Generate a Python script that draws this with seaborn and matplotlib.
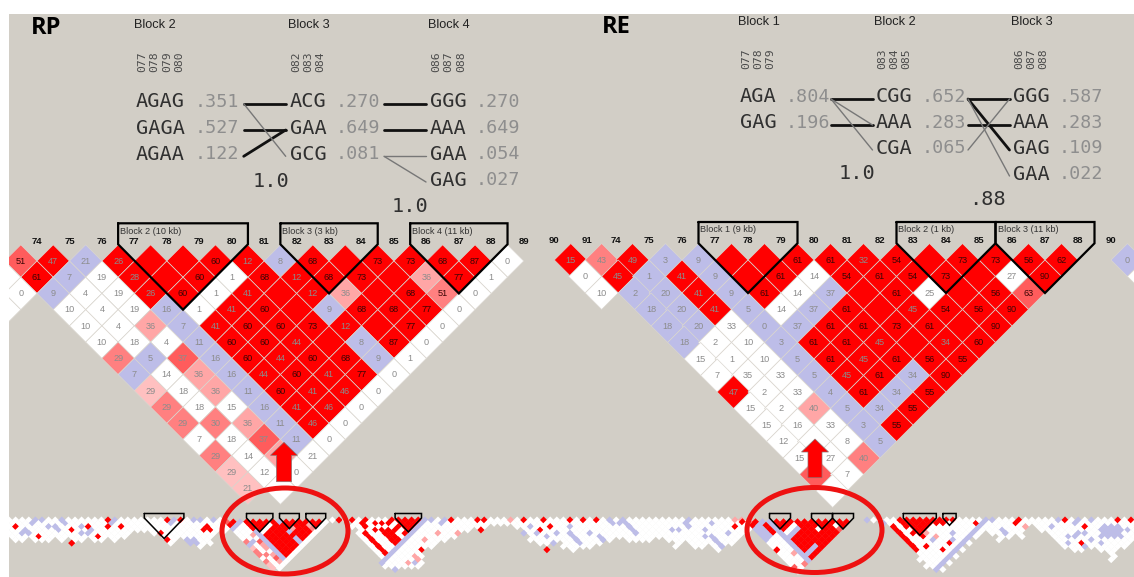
import pandas as pd
import matplotlib
matplotlib.use("Agg")
import matplotlib.pyplot as plt
import matplotlib.patches as mpatches
import seaborn as sns

N = None

# --- LD values, one list per marker distance (rows end at the last marker) ---
rp_values = [
    [51, 47, 21, 26, N, N, 60, 12, 8, 68, N, 73, 73, 68, 87, 0],
    [N, 61, 7, 19, 28, N, 60, 1, 68, 12, 68, 73, N, 36, 77, 1],
    [0, 9, 4, 19, 26, 60, 1, 41, N, 12, 36, N, 68, 51, 0],
    [N, N, 10, 4, 19, 16, 1, 41, 60, N, 9, 68, 68, 77, 0],
    [10, 4, 36, 7, 41, 60, 60, 73, 12, N, 77, 0],
    [10, 18, 4, 11, 60, 60, 44, N, 8, 87, 0],
    [29, 5, 37, 16, 60, 44, 60, 68, 9, 1],
    [7, 14, 36, 16, 44, 60, 41, 77, 0],
    [29, 18, 36, 11, 60, 41, 46, 0],
    [29, 18, 15, 16, 41, 46, 0],
    [29, 30, 36, 11, 46, 0],
    [7, 18, 37, 11, 0],
    [29, 14, 36, 21],
    [29, 12, 0],
    [21, N],
]
rp_shades = [
    "drbrrrrrbrrrrrrw", "wrbwrrrwrrrrrprw", "wbwwrrwrrrprrsw", "wxwwwbwrrrbrrrw",
    "wwpbrrrrrrrw", "wwwbrrrrbrw", "sbdbrrrrbw", "bwpbrrrrw", "lwpbrrrw", "swwbrrw",
    "sspbrw", "wwdbw", "swpw", "lww", "lw",
]
re_values = [
    [15, 43, 49, 3, 9, N, N, 61, 61, 32, 54, N, 73, 73, 56, 62],
    [0, 45, 1, 41, 9, N, 61, 14, 54, 61, 54, 73, N, 27, 90],
    [10, 2, 20, 41, 9, 61, 14, 37, N, 61, 25, N, 56, 63],
    [18, 20, 41, 5, 14, 37, 61, N, 45, 54, 56, 90],
    [18, 20, 33, 0, 37, 61, 61, 73, 61, N, 90],
    [18, 2, 10, 3, 61, 61, 45, N, 34, 60],
    [15, 1, 10, 5, 61, 45, 61, 56, 55],
    [7, 35, 33, 5, 45, 61, 34, 90],
    [47, 2, 33, 4, 61, 34, 55],
    [15, 2, 40, 5, 34, 55],
    [15, 16, 33, 3, 55],
    [12, N, 8, 5],
    [15, 27, 40],
    [N, 7],
    [N],
]
re_shades = [
    "rsrbbrrrrrrrrrrr", "wrbrbrrwrrrrrwr", "wbbrbrwbrrwrrd", "bbrbwbrrrrrr",
    "bbwbbrrrrrr", "bwwbrrrrrr", "wwwbrrrrr", "wwwbrrbr", "rwwbrbr", "wwpbbr",
    "wwwbr", "wwwb", "wws", "dw", "w",
]
re_tail_values = [0, N]
re_tail_shades = "bw"

rp_markers = [74, 75, 76, 77, 78, 79, 80, 81, 82, 83, 84, 85, 86, 87, 88, 89]
re_markers = [90, 91, 74, 75, 76, 77, 78, 79, 80, 81, 82, 83, 84, 85, 86, 87, 88, 90]

rp_blocks = [("Block 2 (10 kb)", 3, 6), ("Block 3 (3 kb)", 8, 10), ("Block 4 (11 kb)", 12, 14)]
re_blocks = [("Block 1 (9 kb)", 3, 5), ("Block 2 (1 kb)", 9, 11), ("Block 3 (11 kb)", 12, 14)]

# --- haplotype tables ---
rp_haps = [
    ("Block 2", ["077", "078", "079", "080"], ["AGAG", "GAGA", "AGAA"], [".351", ".527", ".122"]),
    ("Block 3", ["082", "083", "084"], ["ACG", "GAA", "GCG"], [".270", ".649", ".081"]),
    ("Block 4", ["086", "087", "088"], ["GGG", "AAA", "GAA", "GAG"], [".270", ".649", ".054", ".027"]),
]
re_haps = [
    ("Block 1", ["077", "078", "079"], ["AGA", "GAG"], [".804", ".196"]),
    ("Block 2", ["083", "084", "085"], ["CGG", "AAA", "CGA"], [".652", ".283", ".065"]),
    ("Block 3", ["086", "087", "088"], ["GGG", "AAA", "GAG", "GAA"], [".587", ".283", ".109", ".022"]),
]
# links between haplotype rows: (from row, to row, thick)
rp_links = [
    [(0, 0, True), (1, 1, True), (2, 1, True), (0, 2, False)],
    [(0, 0, True), (1, 1, True), (2, 2, False), (2, 3, False)],
]
re_links = [
    [(0, 0, True), (1, 1, True), (0, 1, False), (0, 2, False)],
    [(0, 0, True), (1, 1, True), (0, 2, True), (0, 3, False), (2, 0, False)],
]

# --- overview strip along the bottom: white depth per column, then coloured cells ---
strip_depth = (
    [6, 7, 7, 6, 7, 7, 7, 6, 7, 6, 7, 7, 6, 7, 7, 6, 7, 6, 5, 4, 4, 4, 5, 6, 8, 7, 6, 6, 8, 9, 8, 5, 4]
    + [0] * 16
    + [1, 1, 1, 3, 6, 8, 10, 12, 15, 15, 15, 15, 15, 15, 9, 9, 7, 7, 6, 5, 4, 3, 3, 3, 2, 2, 2, 2, 3, 5, 7, 8, 8, 7, 7, 9]
    + [10, 9, 9, 9, 8, 7, 7, 6, 6, 7, 7, 7, 7, 6, 6, 7, 9, 7, 8, 9, 9, 8, 10, 9, 8, 7, 5]
    + [0] * 18
    + [1, 1, 1]
    + [2, 4, 6, 8, 10, 13, 15, 16, 16, 14, 12, 10, 8, 6, 5, 4, 5, 7, 6, 5, 6, 3, 2, 4, 4, 6, 8, 9, 10, 10, 8, 9, 10, 10, 13, 9, 9, 7]
)
strip_red = [
    (1, 2), (4, 5), (9, 3), (12, 2), (13, 5), (15, 0), (15, 2), (17, 2), (9, 7), (23, 4), (24, 0), (24, 6),
    (26, 0), (30, 2), (30, 3), (29, 3), (50, 0), (52, 0), (53, 1), (54, 0), (54, 2), (55, 1), (56, 1), (57, 1),
    (55, 3), (56, 3), (57, 3), (58, 3), (58, 0), (59, 0), (60, 0), (61, 0), (62, 0), (63, 0), (59, 1), (60, 1),
    (61, 1), (62, 1), (59, 2), (60, 2), (61, 2), (60, 3), (61, 3), (60, 4), (56, 13), (62, 9), (67, 0), (71, 0),
    (72, 0), (71, 3), (78, 0), (81, 0), (82, 2), (80, 3), (81, 9),
    (85, 0), (87, 0), (89, 0), (110, 2), (135, 1), (139, 8), (141, 9), (142, 7), (146, 1), (153, 0), (152, 1),
    (160, 0), (163, 2), (162, 7), (168, 0), (170, 0), (135, 0), (136, 0), (137, 0), (138, 0), (139, 0), (140, 0),
    (136, 1), (137, 1), (138, 1), (139, 1), (140, 1), (136, 2), (137, 2), (138, 2), (139, 2), (137, 3), (138, 3),
    (137, 4), (138, 4), (138, 5), (141, 0), (142, 0), (141, 1), (143, 0),
]
strip_pink = [
    (61, 11), (62, 12), (60, 13), (65, 4), (63, 6), (76, 0), (68, 4), (110, 0), (111, 0), (154, 2), (139, 4), (140, 5),
]
strip_blue = [
    (4, 0), (3, 1), (5, 0), (2, 3), (2, 4), (3, 4), (6, 2), (7, 3), (8, 1), (8, 0), (7, 2), (11, 4), (12, 3), (12, 4),
    (11, 2), (16, 0), (15, 1), (25, 0), (24, 1), (27, 6), (28, 6), (28, 7), (27, 7), (28, 0), (29, 0), (31, 0), (63, 6),
    (66, 0), (64, 0), (65, 1), (80, 4), (81, 5), (78, 4), (79, 2), (83, 4), (82, 7), (61, 13), (58, 15),
    (91, 0), (91, 1), (92, 1), (85, 2), (88, 4), (89, 5), (90, 6), (100, 3), (101, 3), (103, 0), (102, 1), (103, 2),
    (106, 1), (105, 3), (105, 5), (109, 4), (149, 0), (150, 3), (151, 4), (140, 6), (143, 4), (143, 6),
    (160, 7), (165, 3), (163, 8), (166, 2), (167, 2), (168, 2), (166, 3), (167, 3), (168, 3), (169, 3), (166, 4),
    (167, 4), (168, 4), (158, 2), (159, 0), (161, 1), (162, 0), (164, 0), (130, 0), (132, 1),
    (165, 5), (166, 5), (167, 5), (168, 5), (164, 6), (165, 7), (160, 5), (161, 5), (162, 4), (163, 4),
]
# diagonal runs: (shade, column, row, length, direction)
strip_runs = [
    ("r", 54, 4, 7, 1), ("r", 56, 3, 6, 1), ("r", 58, 4, 3, 1), ("b", 63, 0, 14, -1),
    ("r", 134, 2, 8, 1), ("b", 148, 0, 16, -1), ("b", 93, 0, 5, 1), ("b", 85, 4, 4, 1), ("b", 106, 5, 4, 1),
]
strip_blocks_cols = [(21, 26), (59, 62), (136, 140), (142, 143)]

# --- styling and layout ---
sns.set_theme(style="white")
BG = "#D2CEC6"
GRID = "#DAD6CF"
SHADE_COLOURS = {
    "r": "#FF0000", "b": "#BDBDE8", "w": "#FFFFFF",
    "l": "#FFC0C0", "p": "#FFA6A6", "s": "#FF8080", "d": "#FF5C5C",
}
WIDTH, HEIGHT = 1134, 577
LEFT, TOP = 9, 14
LABEL_FONT = "Liberation Sans"
MONO_FONT = "DejaVu Sans Mono"


def diamond_size(step):
    """scatter size (pt^2) of a 'D' marker whose diagonal is step pixels wide"""
    side_pt = step / 2 ** 0.5 * 72 / 100
    return side_pt ** 2


def ld_frame(values, shades, last_marker, pos, tail=None):
    records = []
    for row, (vals, codes) in enumerate(zip(values, shades)):
        d = row + 1
        first = last_marker - d - len(vals) + 1
        for k, (v, code) in enumerate(zip(vals, codes)):
            if code == "x":
                continue
            i = first + k
            records.append((i, d, (pos(i) + pos(i + d)) / 2, v, code))
    if tail is not None:
        for row, (v, code) in enumerate(zip(*tail)):
            d = row + 1
            records.append((last_marker + 1, d, last_marker + 1 + d / 2, v, code))
    return pd.DataFrame(records, columns=["i", "d", "u", "value", "shade"]).astype({"value": object})


def draw_cells(ax, frame, x0, y0, xstep, ystep, gap, labels=True):
    df = frame.copy()
    df["px"] = x0 + xstep * df["u"]
    df["py"] = y0 + ystep * (df["d"] - 1)
    size = diamond_size(xstep) if gap else diamond_size(xstep * 1.08)
    sns.scatterplot(
        data=df, x="px", y="py", hue="shade", palette=SHADE_COLOURS, marker="D",
        s=size, edgecolor=GRID if gap else "none", linewidth=0.5 if gap else 0,
        legend=False, ax=ax, zorder=2,
    )
    if not labels:
        return
    for row in df.itertuples():
        if row.value is None or pd.isna(row.value):
            continue
        v = int(row.value)
        colour = "#3A0505" if v >= 50 else "#8C8C8C"
        ax.text(row.px, row.py + 0.3, str(v), fontsize=6.6, family=LABEL_FONT, color=colour,
                ha="center", va="center", zorder=3)


def draw_block(ax, i, j, x0, xstep, top, shoulder, y0, ystep, lw):
    x_left = x0 + xstep * (i - 0.5)
    x_right = x0 + xstep * (j + 0.5)
    x_mid = x0 + xstep * (i + j) / 2
    y_apex = y0 + ystep * (j - i)
    ax.plot([x_left, x_right, x_right, x_mid, x_left, x_left],
            [top, top, shoulder, y_apex, shoulder, top],
            color="black", lw=lw, solid_joinstyle="miter", zorder=4)


def draw_haps(ax, tables, links, xs, ys, title_y, num_y, adv, link_gap, corr):
    for (title, nums, haps, freqs), x in zip(tables, xs):
        ax.text(x - 2, title_y, title, fontsize=9.2, family=LABEL_FONT, color="#222222",
                ha="left", va="center")
        for k, num in enumerate(nums):
            ax.text(x + adv * (k + 0.5), num_y, num, fontsize=8.2, family=MONO_FONT, color="#4A4A4A",
                    rotation=90, ha="center", va="center")
        for row, (hap, freq) in enumerate(zip(haps, freqs)):
            ax.text(x, ys[row], hap, fontsize=14.6, family=MONO_FONT, color="#303030", ha="left", va="center")
            ax.text(x + adv * (len(hap) + 0.7), ys[row], freq, fontsize=13.2, family=MONO_FONT,
                    color="#8E8E8E", ha="left", va="center")
    for c, pairs in enumerate(links):
        x_from = xs[c + 1] - link_gap[0]
        x_start = x_from - link_gap[1]
        for a, b, thick in pairs:
            ax.plot([x_start, x_from], [ys[a] + 2, ys[b] + 2],
                    color="#111111" if thick else "#777777", lw=2.0 if thick else 1.0, zorder=2)
    for text, x, y in corr:
        ax.text(x, y, text, fontsize=14.6, family=MONO_FONT, color="#303030", ha="center", va="center")


fig = plt.figure(figsize=(WIDTH / 100, HEIGHT / 100), dpi=100, facecolor="white")
ax = fig.add_axes([LEFT / WIDTH, 0, (WIDTH - LEFT) / WIDTH, (HEIGHT - TOP) / HEIGHT], facecolor=BG)
ax.set_xlim(LEFT, WIDTH)
ax.set_ylim(HEIGHT, TOP)
ax.set_axis_off()
ax.add_patch(mpatches.Rectangle((LEFT, TOP), WIDTH - LEFT, HEIGHT - TOP, color=BG, zorder=0))

# overview strip
cells = {}
for c, depth in enumerate(strip_depth):
    for r in range(depth):
        cells[(c, r)] = "w"
for marks, code in ((strip_blue, "b"), (strip_pink, "p"), (strip_red, "r")):
    for c, r in marks:
        cells[(c, r)] = code
for code, c, r, n, direction in strip_runs:
    for k in range(n):
        u = c + 0.5 * (r % 2) + direction * k / 2
        rr = r + k
        cells[(int(u - 0.5 * (rr % 2)), rr)] = code
strip_frame = pd.DataFrame(
    [(c + 0.5 * (r % 2), r + 1, None, code) for (c, r), code in cells.items()],
    columns=["u", "d", "value", "shade"],
)
STRIP_STEP = 6.6
draw_cells(ax, strip_frame, LEFT, 520, STRIP_STEP, STRIP_STEP / 2, gap=False, labels=False)
for i, j in strip_blocks_cols:
    draw_block(ax, i, j, LEFT, STRIP_STEP, 513.5, 518, 522, STRIP_STEP / 2, 1.1)

# main LD triangles
rp_frame = ld_frame(rp_values, rp_shades, 15, lambda i: i)
re_pos = lambda i: i if i >= 0 else i + 0.13
re_frame = ld_frame(re_values, re_shades, 14, re_pos, tail=(re_tail_values, re_tail_shades))

RP_X, RP_STEP, RP_Y = 37, 32.45, 261
RE_X, RE_STEP, RE_Y = 616, 33.0, 260
draw_cells(ax, rp_frame, RP_X, RP_Y, RP_STEP, RP_STEP / 2, gap=True)
draw_cells(ax, re_frame, RE_X, RE_Y, RE_STEP, RE_STEP / 2, gap=True)

for k, m in enumerate(rp_markers):
    ax.text(RP_X + RP_STEP * k, 241.5, str(m), fontsize=6.8, fontweight="bold", family=LABEL_FONT,
            color="#111111", ha="center", va="center")
for k, m in enumerate(re_markers):
    ax.text(RE_X + RE_STEP * re_pos(k - 2), 240.5, str(m), fontsize=6.8, fontweight="bold", family=LABEL_FONT,
            color="#111111", ha="center", va="center")

for name, i, j in rp_blocks:
    draw_block(ax, i, j, RP_X, RP_STEP, 223.3, 244.3, RP_Y, RP_STEP / 2, 1.6)
    ax.text(RP_X + RP_STEP * (i - 0.5) + 2, 231, name, fontsize=6.6, family=LABEL_FONT, color="#333333",
            ha="left", va="center", zorder=5)
for name, i, j in re_blocks:
    draw_block(ax, i, j, RE_X, RE_STEP, 222, 243.3, RE_Y, RE_STEP / 2, 1.6)
    ax.text(RE_X + RE_STEP * (i - 0.5) + 2, 229.5, name, fontsize=6.6, family=LABEL_FONT, color="#333333",
            ha="left", va="center", zorder=5)

# mini copies of the triangles inside the overview strip
MINI_RP_X, MINI_RP_STEP = 230, 6.6
MINI_RE_X, MINI_RE_STEP = 752, 7.0
draw_cells(ax, rp_frame, MINI_RP_X, 522, MINI_RP_STEP, MINI_RP_STEP / 2, gap=False, labels=False)
draw_cells(ax, re_frame[re_frame["i"] < 15], MINI_RE_X, 522, MINI_RE_STEP, MINI_RE_STEP / 2, gap=False, labels=False)
for _, i, j in rp_blocks:
    draw_block(ax, i, j, MINI_RP_X, MINI_RP_STEP, 513.5, 518, 522, MINI_RP_STEP / 2, 1.1)
for _, i, j in re_blocks:
    draw_block(ax, i, j, MINI_RE_X, MINI_RE_STEP, 513.5, 518, 522, MINI_RE_STEP / 2, 1.1)

# haplotype blocks
draw_haps(ax, rp_haps, rp_links, [136, 289.7, 430], [101.7, 128, 154.3, 180], 25, 62, 12.4, (4, 42),
          [("1.0", 270.7, 181.7), ("1.0", 410, 207)])
draw_haps(ax, re_haps, re_links, [740, 876, 1013], [97, 123, 148, 174], 22, 59, 12.2, (3.5, 41.5),
          [("1.0", 857.4, 173.5), (".88", 987, 199.5)])

ax.text(31, 28, "RP", fontsize=17, fontweight="bold", family="Open Sans", color="black", ha="left", va="center")
ax.text(602, 27, "RE", fontsize=17, fontweight="bold", family="Open Sans", color="black", ha="left", va="center")

# callouts
for cx, cy, w, h in ((285, 531, 126, 86), (814.5, 530, 135, 85)):
    ax.add_patch(mpatches.Ellipse((cx, cy), w, h, fill=False, edgecolor="#EE1111", lw=3.6, zorder=6))
for x, y_tail, y_tip, shaft, head, head_len in ((284, 481.7, 442.3, 15, 27, 13), (815, 477.7, 439, 14, 27, 13)):
    ax.add_patch(mpatches.FancyArrow(x, y_tail, 0, y_tip - y_tail, width=shaft, head_width=head, head_length=head_len,
                                     length_includes_head=True, facecolor="#FF0000", edgecolor="#8A7070",
                                     lw=0.5, zorder=6))

fig.savefig("out.png", dpi=100)
plt.close(fig)
